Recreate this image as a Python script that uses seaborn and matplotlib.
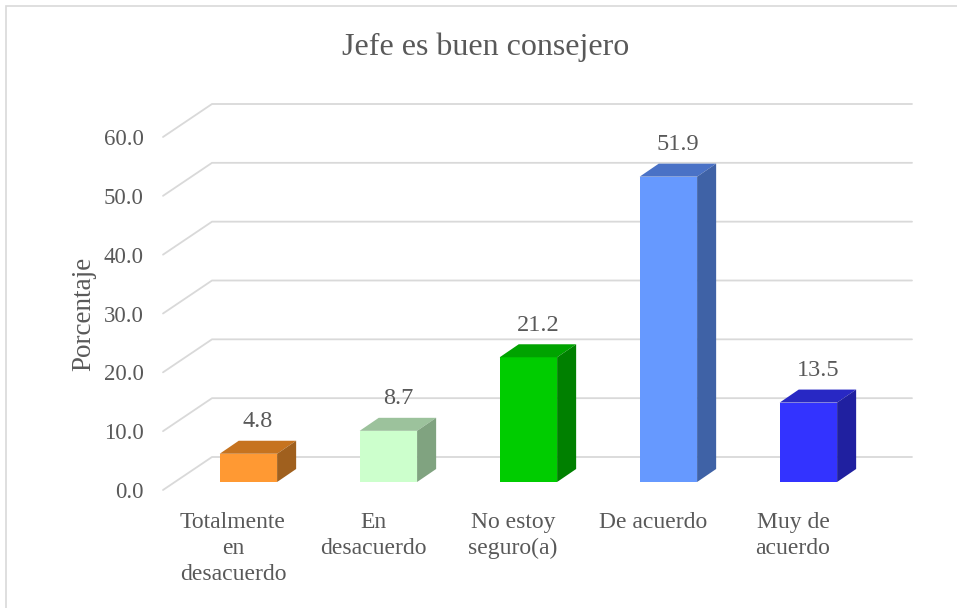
import numpy as np
import pandas as pd
import seaborn as sns
import matplotlib.pyplot as plt
from matplotlib.patches import Polygon, Rectangle

categories = ['Totalmente\nen\ndesacuerdo', 'En\ndesacuerdo', 'No estoy\nseguro(a)', 'De acuerdo', 'Muy de\nacuerdo']
values = [4.8, 8.7, 21.2, 51.9, 13.5]
front_colors = ['#FF9933', '#CCFFCC', '#00CC00', '#6699FF', '#3333FF']
top_colors = ['#C6731F', '#9CC29C', '#00A300', '#4A72C6', '#2828C4']
side_colors = ['#A0601E', '#80A380', '#008000', '#3F62A6', '#2020A0']
yticks = [0, 10, 20, 30, 40, 50, 60]

df = pd.DataFrame({'cat': categories, 'val': values})

sns.set_style('white')
plt.rcParams['font.family'] = ['Liberation Serif', 'DejaVu Serif']
txt = '#595959'
grid = '#D9D9D9'

fig = plt.figure(figsize=(9.57, 6.08), dpi=100)
ax = fig.add_axes([163 / 957, 118 / 608, 700 / 957, 353 / 608])

# 3d offsets in data units
depth_dx, depth_dy = 0.35, 5.61      # floor depth (front -> back wall)
bar_dx, bar_dy = 0.11, 1.36          # bar front face shift from the front edge
side_dx, side_dy = 0.136, 2.21       # bar depth

# back wall gridlines + floor/side diagonals
for v in yticks:
    ax.plot([-0.5, -0.5 + depth_dx, 4.5 + depth_dx], [v, v + depth_dy, v + depth_dy],
            color=grid, lw=1.3, clip_on=False, zorder=1)

sns.barplot(data=df, x='cat', y='val', hue='cat', palette=front_colors, width=0.41,
            saturation=1, legend=False, ax=ax, zorder=3)

for i, p in enumerate(ax.patches):
    p.set_x(p.get_x() + bar_dx)
    p.set_y(p.get_y() + bar_dy)
    p.set_linewidth(0)
    p.set_clip_on(False)
    x0, w = p.get_x(), p.get_width()
    y0, h = p.get_y(), p.get_height()
    top = Polygon([(x0, y0 + h), (x0 + side_dx, y0 + h + side_dy),
                   (x0 + w + side_dx, y0 + h + side_dy), (x0 + w, y0 + h)],
                  closed=True, facecolor=top_colors[i], lw=0, clip_on=False, zorder=3)
    side = Polygon([(x0 + w, y0), (x0 + w + side_dx, y0 + side_dy),
                    (x0 + w + side_dx, y0 + h + side_dy), (x0 + w, y0 + h)],
                   closed=True, facecolor=side_colors[i], lw=0, clip_on=False, zorder=3)
    ax.add_patch(top)
    ax.add_patch(side)
    ax.annotate(f'{values[i]:.1f}', (x0 + (w + side_dx) / 2, y0 + h + side_dy),
                xytext=(0, 6), textcoords='offset points', ha='center', va='bottom',
                fontsize=17.5, color=txt, zorder=4)

ax.set_xlim(-0.5, 4.5)
ax.set_ylim(0, 60)
ax.set_yticks(yticks)
ax.set_yticklabels([f'{v:.1f}' for v in yticks], fontsize=16.5)
ax.set_xticks(range(len(categories)))
ax.set_xticklabels(categories, linespacing=1.3, fontsize=17)
ax.tick_params(axis='both', length=0, labelcolor=txt)
ax.tick_params(axis='y', pad=14)
ax.tick_params(axis='x', pad=16)
ax.set_xlabel('')
ax.set_ylabel('Porcentaje', fontsize=19.5, color=txt, labelpad=5)
sns.despine(ax=ax, left=True, bottom=True)
ax.patch.set_alpha(0)

fig.text(486 / 957, 1 - 47 / 608, 'Jefe es buen consejero', ha='center', va='center',
         fontsize=23, color=txt)

# chart area outline
fig.patches.append(Rectangle((6 / 957, -0.1), 1.2, 1 - 6 / 608 + 0.1, transform=fig.transFigure,
                             fill=False, edgecolor=grid, lw=1.2))

fig.savefig('out.png', dpi=100)
